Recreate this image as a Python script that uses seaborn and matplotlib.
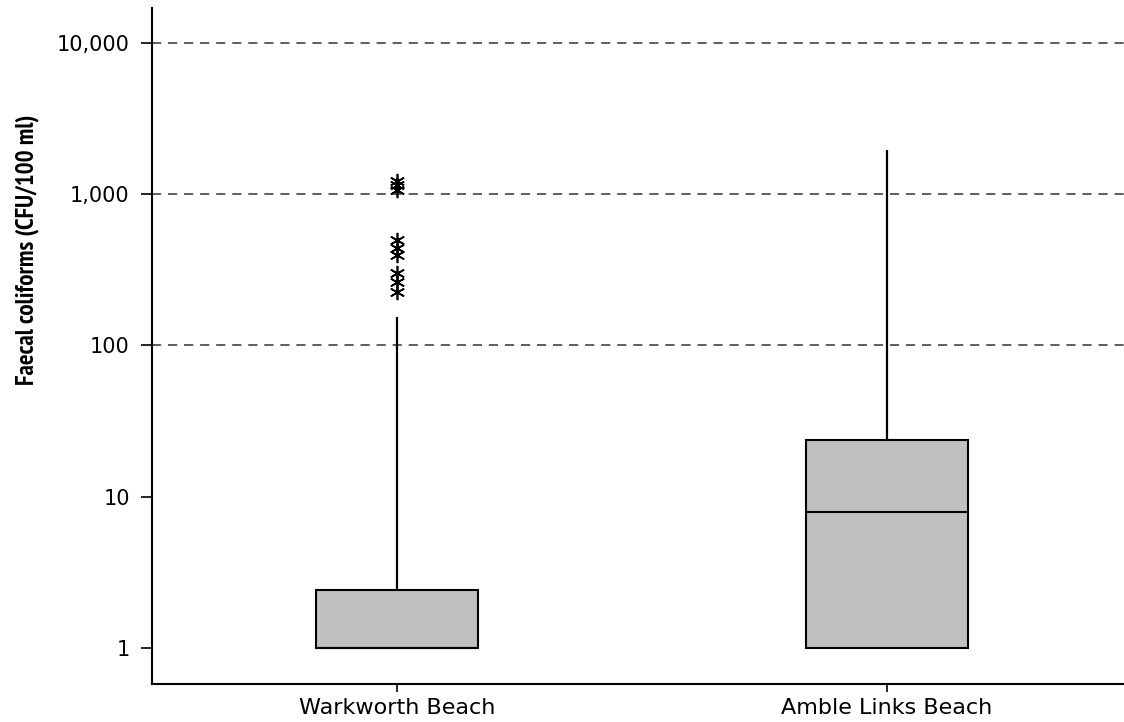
import pandas as pd
import numpy as np
import matplotlib
matplotlib.use("Agg")
import matplotlib.pyplot as plt
from matplotlib import font_manager
import seaborn as sns

# values (CFU/100 ml)
beaches=["Warkworth Beach","Amble Links Beach"]
warkworth=[1]*25+[2]*11+[2.42,20,60,154,226,263,302,397,441,499,1067,1150,1230]
amble=[1,1,1,4,7.93,14,23.7,300,1963]
grid_values=[100,1000,10000]
tick_values=[1,10,100,1000,10000]
tick_labels=["1","10","100","1,000","10,000"]

df=pd.concat([
    pd.DataFrame({"beach":beaches[0],"cfu":warkworth}),
    pd.DataFrame({"beach":beaches[1],"cfu":amble}),
],ignore_index=True)

sns.set_style("white")
plt.rcParams["font.family"]=["DejaVu Sans"]
plt.rcParams["text.color"]="black"
plt.rcParams["xtick.color"]="black"
plt.rcParams["ytick.color"]="black"

# narrow bold font for the y label, if one is installed
def weight_of(f):
    w=f.weight
    if isinstance(w,str):
        w=font_manager.weight_dict.get(w,400)
    return w

def rank(f):
    n=(f.name+" "+f.fname).lower()
    if "narrow" in n:
        r=0
    elif "semicondensed" in n or "semi-condensed" in n or "semi condensed" in n:
        r=1
    elif "extra" in n or "ultra" in n:
        r=3
    else:
        r=2
    return (r,abs(weight_of(f)-700))

cands=[f for f in font_manager.fontManager.ttflist
       if ("narrow" in f.name.lower() or "condensed" in (f.name+f.fname).lower())
       and 600<=weight_of(f)<=800 and "italic" not in f.fname.lower()]
cands.sort(key=rank)

fig=plt.figure(figsize=(11.24,7.22),dpi=100)
ax=fig.add_axes([152/1124,1-684/722,1-152/1124,676/722])

for v in grid_values:
    ax.axhline(v,color="#333333",lw=1.1,ls=(0,(6,4.5)),zorder=0)

sns.boxplot(data=df,x="beach",y="cfu",order=beaches,log_scale=True,whis=4.9,width=0.33,
            color="#c0c0c0",saturation=1,linecolor="black",linewidth=1.5,ax=ax,
            flierprops=dict(marker=(6,2,0),markersize=11,markeredgecolor="black",markeredgewidth=1.2),
            capprops=dict(linewidth=0),whiskerprops=dict(linewidth=1.6))

ax.set_yscale("log")
ax.set_ylim(0.578,17030)
ax.set_xlim(-0.5,1.484)
ax.set_yticks(tick_values)
ax.set_yticklabels(tick_labels)
ax.yaxis.set_minor_locator(plt.NullLocator())
ax.tick_params(axis="y",labelsize=15,length=8,width=1.2,direction="out",left=True,pad=8)
ax.tick_params(axis="x",labelsize=16,length=6,width=1.2,direction="out",bottom=True,pad=4)
ax.set_xlabel("")
ax.set_ylabel("")
for s in ["top","right"]:
    ax.spines[s].set_visible(False)
for s in ["left","bottom"]:
    ax.spines[s].set_color("black")
    ax.spines[s].set_linewidth(1.5)

label="Faecal coliforms (CFU/100 ml)"
if cands:
    fp=font_manager.FontProperties(fname=cands[0].fname,size=16)
else:
    fp=font_manager.FontProperties(family=["Liberation Sans","DejaVu Sans"],weight="bold",size=14)
ylab=fig.text(27/1124,1-250/722,label,rotation=90,ha="center",va="center",fontproperties=fp)

# scale label so its length matches the reference (~270 px)
fig.canvas.draw()
h=ylab.get_window_extent().height
size=min(fp.get_size()*270/h,18.5)
ylab.set_fontsize(size)

fig.savefig("out.png",dpi=100)
